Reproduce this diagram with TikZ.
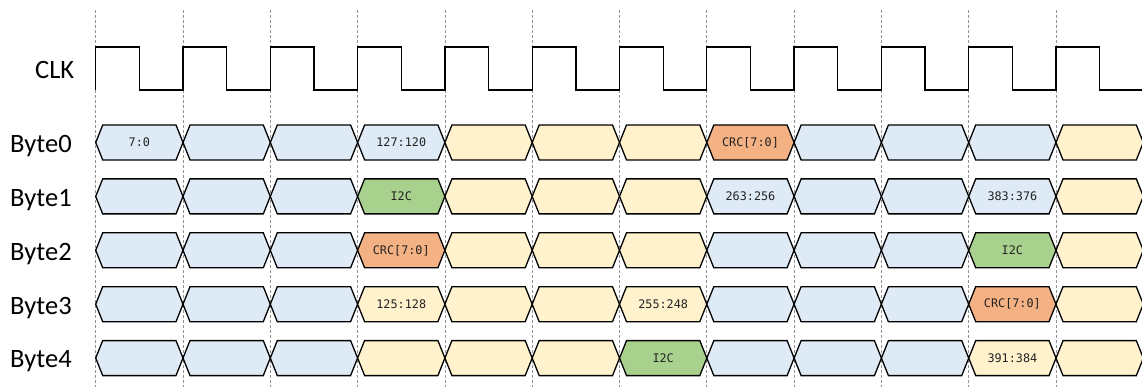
\documentclass[tikz,border=0pt]{standalone}
\usepackage{fontspec}
\setmainfont{Carlito}
\newfontfamily\segfont{DejaVu Sans Mono}
\definecolor{cb}{HTML}{DEEBF7}
\definecolor{cy}{HTML}{FFF2CC}
\definecolor{co}{HTML}{F4B183}
\definecolor{cg}{HTML}{A9D18E}
\definecolor{txt}{HTML}{222222}
\tikzset{
  segline/.style={draw=black, line width=1.3pt, line join=miter},
  seglbl/.style={font=\segfont\fontsize{11.8}{13}\selectfont, text=txt, inner sep=0pt},
  rowlbl/.style={font=\fontsize{26.5}{30}\selectfont, anchor=base west, inner sep=0pt},
  grid/.style={draw=gray!85, line width=0.7pt, dash pattern=on 3pt off 2pt},
  clkline/.style={draw=black, line width=1.3pt, line join=miter}
}
\newcommand\segm[4]{% row, col, colour, label
  \pgfmathsetmacro\xa{95.7+87.3*#2}
  \pgfmathsetmacro\xb{\xa+87.3}
  \pgfmathsetmacro\xm{\xa+43.65}
  \pgfmathsetmacro\cy{142.5+53.9*#1}
  \draw[segline, fill=#3] (\xa,\cy) -- (\xa+7,\cy-17.5) -- (\xb-7,\cy-17.5) -- (\xb,\cy)
     -- (\xb-7,\cy+17.5) -- (\xa+7,\cy+17.5) -- cycle;
  \node[seglbl] (s#1c#2) at (\xm,\cy) {#4};
}
\begin{document}
\begin{tikzpicture}[x=1pt,y=-1pt]
\useasboundingbox (0,0) rectangle (1142,387);
% grid
\foreach \k in {0,...,11} {
  \coordinate (gt\k) at (95.7+87.3*\k,10);
  \coordinate (gb\k) at (95.7+87.3*\k,387);
  \draw[grid] (gt\k) -- (gb\k);
}
% clock
\node[rowlbl] (clk) at (35,79) {CLK};
\draw[clkline] (95.7,90)
  \foreach \k in {0,...,11} { -- (95.7+87.3*\k,90) -- (95.7+87.3*\k,47) -- (95.7+87.3*\k+43.65,47) -- (95.7+87.3*\k+43.65,90) }
  -- (1145,90);
% row labels
\foreach \r in {0,...,4} {
  \node[rowlbl] (b\r) at (10,142.5+53.9*\r+9.8) {Byte\r};
}
% Byte0
\foreach \k/\c/\t in {0/cb/7:0,1/cb/,2/cb/,3/cb/127:120,4/cy/,5/cy/,6/cy/,7/co/{CRC[7:0]},8/cb/,9/cb/,10/cb/,11/cy/} {\segm{0}{\k}{\c}{\t}}
% Byte1
\foreach \k/\c/\t in {0/cb/,1/cb/,2/cb/,3/cg/I2C,4/cy/,5/cy/,6/cy/,7/cb/263:256,8/cb/,9/cb/,10/cb/383:376,11/cy/} {\segm{1}{\k}{\c}{\t}}
% Byte2
\foreach \k/\c/\t in {0/cb/,1/cb/,2/cb/,3/co/{CRC[7:0]},4/cy/,5/cy/,6/cy/,7/cb/,8/cb/,9/cb/,10/cg/I2C,11/cy/} {\segm{2}{\k}{\c}{\t}}
% Byte3
\foreach \k/\c/\t in {0/cb/,1/cb/,2/cb/,3/cy/125:128,4/cy/,5/cy/,6/cy/255:248,7/cb/,8/cb/,9/cb/,10/co/{CRC[7:0]},11/cy/} {\segm{3}{\k}{\c}{\t}}
% Byte4
\foreach \k/\c/\t in {0/cb/,1/cb/,2/cb/,3/cy/,4/cy/,5/cy/,6/cg/I2C,7/cb/,8/cb/,9/cb/,10/cy/391:384,11/cy/} {\segm{4}{\k}{\c}{\t}}
\end{tikzpicture}
\end{document}
